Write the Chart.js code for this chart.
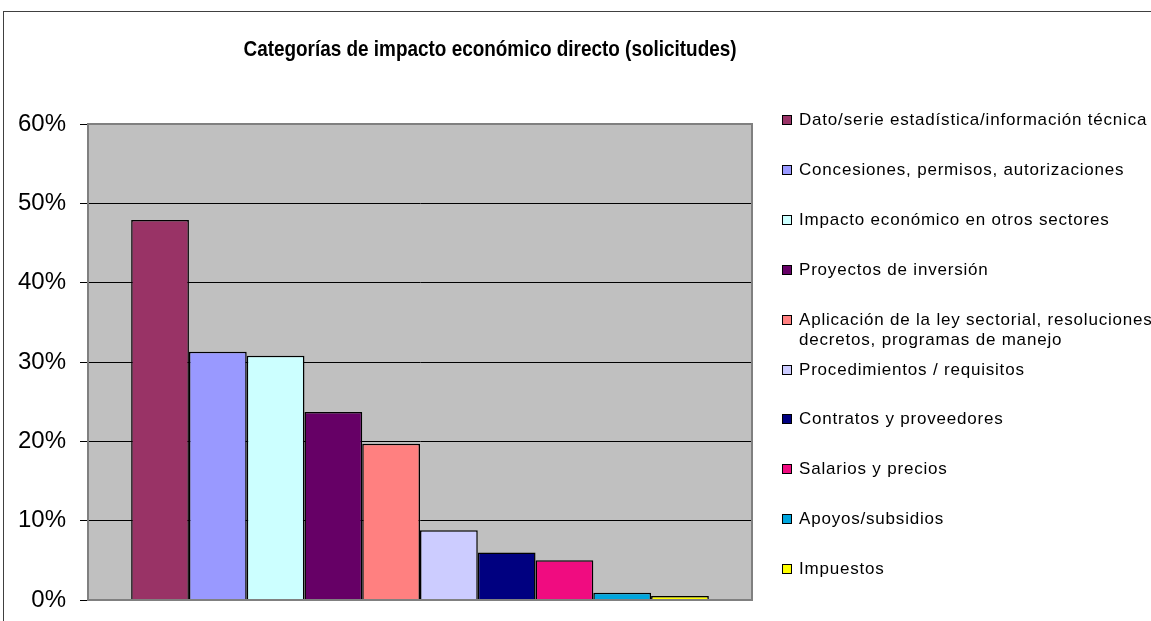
<!DOCTYPE html>
<html>
<head>
<meta charset="utf-8">
<script src="https://cdn.jsdelivr.net/npm/chart.js@4.4.1/dist/chart.umd.min.js"></script>
<style>
  html, body { margin: 0; padding: 0; background: #fff; }
  #wrap { position: relative; width: 1151px; height: 621px; overflow: hidden; }
  #frame { position: absolute; left: 3px; top: 11px; width: 1160px; height: 620px;
           border: 1px solid #404040; box-sizing: border-box; }
  #chart { position: absolute; left: 0; top: 0; }
  #title { position: absolute; left: 0; width: 980px; top: 36px; text-align: center;
           font: bold 22px "Liberation Sans", Arial, sans-serif; color: #000;
           transform: scaleX(0.86); transform-origin: 490px 0; }
  #legend { position: absolute; left: 782px; top: 0; margin: 0; padding: 0; list-style: none;
            font: 17px "Liberation Sans", Arial, sans-serif; letter-spacing: 0.8px; color: #000; }
  #legend li { position: absolute; left: 0; white-space: nowrap; line-height: 20px; }
  #legend .box { position: absolute; left: 0; top: 5px; width: 8px; height: 8px;
                 border: 1px solid #000; }
  #legend .txt { position: absolute; left: 17px; top: 0; }
</style>
</head>
<body>
<div id="wrap">
  <div id="frame"></div>
  <canvas id="chart" width="1151" height="621"></canvas>
  <div id="title">Categorías de impacto económico directo (solicitudes)</div>
  <ul id="legend"></ul>
</div>
<script>
// Data
const categories = [
  "Dato/serie estadística/información técnica",
  "Concesiones, permisos, autorizaciones",
  "Impacto económico en otros sectores",
  "Proyectos de inversión",
  "Aplicación de la ley sectorial, resoluciones,\ndecretos, programas de manejo",
  "Procedimientos / requisitos",
  "Contratos y proveedores",
  "Salarios y precios",
  "Apoyos/subsidios",
  "Impuestos",
];
const shares = [0.479, 0.313, 0.308, 0.237, 0.197, 0.088, 0.06, 0.05, 0.009, 0.005];
const colors = [
  "#993366", "#9999FF", "#CCFFFF", "#660066", "#FF8080",
  "#CCCCFF", "#000080", "#F00C80", "#00A6DE", "#FFFF00",
];
const yTicks = [0, 0.1, 0.2, 0.3, 0.4, 0.5, 0.6];

const plotBackground = {
  id: "plotBackground",
  beforeDraw(chart) {
    const { ctx, chartArea: a } = chart;
    ctx.save();
    ctx.fillStyle = "#C0C0C0";
    ctx.fillRect(a.left, a.top, a.right - a.left, a.bottom - a.top);
    ctx.restore();
  },
  afterDraw(chart) {
    const { ctx, chartArea: a } = chart;
    ctx.save();
    ctx.strokeStyle = "#808080";
    ctx.lineWidth = 2;
    ctx.strokeRect(a.left, a.top, a.right - a.left, a.bottom - a.top);
    ctx.restore();
  },
};

const chartEl = document.getElementById("chart").getContext("2d");

const barChart = new Chart(chartEl, {
  type: "bar",
  data: {
    labels: [""],
    datasets: categories.map((name, i) => ({
      label: name,
      data: [shares[i]],
      backgroundColor: colors[i],
      borderColor: "#000000",
      borderWidth: 1.5,
      categoryPercentage: 0.87,
      barPercentage: 1.0,
    })),
  },
  options: {
    responsive: false,
    animation: false,
    events: [],
    layout: {
      padding: { top: 124, right: 399, bottom: 21, left: 0 },
    },
    plugins: {
      legend: { display: false },
      title: { display: false },
      tooltip: { enabled: false },
    },
    scales: {
      x: { display: false },
      y: {
        min: 0,
        max: 0.6,
        afterBuildTicks: (scale) => {
          scale.ticks = yTicks.map((v) => ({ value: v }));
        },
        afterFit: (scale) => {
          scale.width = 88;
          scale.paddingTop = 0;
          scale.paddingBottom = 0;
        },
        grid: {
          color: "#000000",
          lineWidth: 1,
          tickLength: 8,
        },
        border: { color: "#808080", width: 2 },
        ticks: {
          padding: 14,
          color: "#000000",
          font: { family: "'Liberation Sans', Arial, sans-serif", size: 24 },
          callback: (v) => Math.round(v * 100) + "%",
        },
      },
    },
  },
  plugins: [plotBackground],
});

// Legend (same order as datasets)
const legendEl = document.getElementById("legend");
categories.forEach((name, i) => {
  const li = document.createElement("li");
  li.style.top = (110 + i * 49.9) + "px";
  const box = document.createElement("span");
  box.className = "box";
  box.style.background = colors[i];
  const txt = document.createElement("span");
  txt.className = "txt";
  txt.innerHTML = name.split("\n").join("<br>");
  li.appendChild(box);
  li.appendChild(txt);
  legendEl.appendChild(li);
});
</script>
</body>
</html>
